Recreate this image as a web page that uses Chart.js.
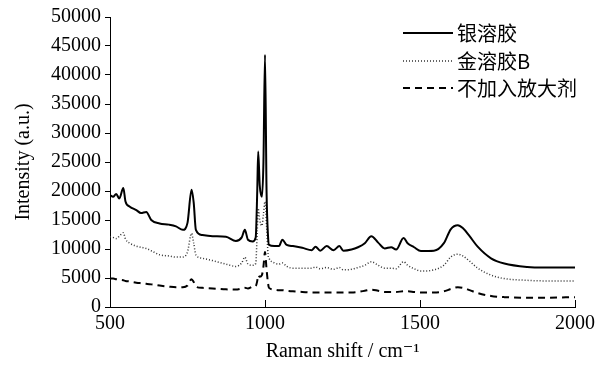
<!DOCTYPE html>
<html>
<head>
<meta charset="utf-8">
<script src="https://cdn.jsdelivr.net/npm/chart.js@4/dist/chart.umd.min.js"></script>
<style>
  html, body { margin: 0; padding: 0; background: #fff; }
  #wrap { width: 600px; height: 370px; position: relative; }
</style>
</head>
<body>
<div id="wrap"><canvas id="c"></canvas></div>
<script>
const seriesNames = ['银溶胶', '金溶胶B', '不加入放大剂'];
const ramanShift = [500,510,520,530,543,550,564,585,600,617,633,660,690,713,735,750,763,770,777,798,831,874,906,925,935,945,960,970,975,978,983,990,995,1000,1005,1010,1013,1030,1045,1056,1070,1090,1120,1151,1163,1178,1199,1221,1240,1253,1279,1300,1322,1343,1365,1386,1407,1423,1447,1460,1481,1503,1545,1577,1599,1622,1638,1660,1686,1729,1772,1846,1900,2000];
const silverSol = [19300,19000,19500,18700,20500,18200,17300,16700,16200,16400,15000,14400,14200,13900,13300,14500,20200,18000,13300,12400,12200,12100,11400,12000,13300,11600,11300,12000,20000,26800,21000,19000,25000,43500,20000,12000,10700,10500,10500,11600,10700,10500,10200,9800,10400,9700,10500,9800,10500,9700,9900,10300,11000,12200,11100,10100,10300,9900,11900,11000,10300,9650,9700,11000,13400,14100,13600,12200,10400,8400,7500,6900,6800,6800];
const goldSolB = [12100,12000,11800,12200,12800,11700,11000,10500,10300,10100,9700,9000,8800,8600,8600,9500,12700,11000,9000,8400,8000,7400,7000,7600,8600,7400,7200,7500,13000,17000,15000,14000,16000,18200,14000,9000,8400,7600,7400,7600,7000,6700,6700,6700,6900,6600,6800,6500,6800,6400,6500,6800,7200,7800,7200,6700,6700,6600,7800,7200,6600,6200,6400,7200,8600,9100,8800,7900,6700,5500,4900,4600,4500,4500];
const noAmplifier = [4900,4900,4800,4700,4600,4500,4400,4200,4100,4000,3900,3700,3500,3400,3400,3700,4800,4300,3500,3300,3200,3050,3000,3200,3300,3200,3500,3600,4500,5500,5200,5500,7000,9500,6500,4000,3300,3000,2900,2900,2800,2700,2600,2500,2500,2500,2500,2500,2500,2500,2500,2600,2800,3000,2800,2600,2600,2600,2700,2700,2600,2500,2500,2700,3100,3400,3300,2900,2400,1900,1700,1600,1600,1700];
const xTicks = [500, 1000, 1500, 2000];
const yTicks = [0,5000,10000,15000,20000,25000,30000,35000,40000,45000,50000];

const toPts = arr => ramanShift.map((x, i) => ({x, y: arr[i]}));
const styles = [
  {color: '#000', width: 2, dash: []},
  {color: '#333', width: 1.5, dash: [1, 2]},
  {color: '#000', width: 2, dash: [7, 5]}
];
const values = [silverSol, goldSolB, noAmplifier];

const serif = '"Liberation Serif", "DejaVu Serif", serif';
const cjk = '"Noto Sans CJK SC", sans-serif';

const extras = {
  id: 'extras',
  afterDraw(chart) {
    const ctx = chart.ctx;
    const xs = chart.scales.x;
    const area = chart.chartArea;
    ctx.save();
    ctx.strokeStyle = '#000';
    ctx.lineWidth = 1;
    xTicks.slice(1).forEach(v => {
      const px = Math.round(xs.getPixelForValue(v)) + 0.5;
      ctx.beginPath();
      ctx.moveTo(px, area.bottom);
      ctx.lineTo(px, area.bottom - 7);
      ctx.stroke();
    });
    const lx0 = 403, lx1 = 453, rows = [33, 61, 88];
    seriesNames.forEach((name, i) => {
      const s = styles[i];
      ctx.strokeStyle = s.color;
      ctx.lineWidth = s.width;
      ctx.setLineDash(s.dash);
      ctx.beginPath();
      ctx.moveTo(lx0, rows[i]);
      ctx.lineTo(lx1, rows[i]);
      ctx.stroke();
      ctx.setLineDash([]);
      ctx.fillStyle = '#000';
      ctx.font = '20px ' + cjk;
      ctx.textBaseline = 'middle';
      ctx.textAlign = 'left';
      ctx.fillText(name, 457, rows[i]);
    });
    ctx.restore();
  }
};

new Chart(document.getElementById('c'), {
  type: 'line',
  data: {
    datasets: seriesNames.map((name, i) => ({
      label: name,
      data: toPts(values[i]),
      borderColor: styles[i].color,
      borderWidth: styles[i].width,
      borderDash: styles[i].dash,
      pointRadius: 0,
      fill: false,
      cubicInterpolationMode: 'monotone'
    }))
  },
  options: {
    responsive: true,
    maintainAspectRatio: false,
    animation: false,
    layout: { padding: { left: 0, right: 22, top: 17, bottom: 0 } },
    plugins: { legend: { display: false }, tooltip: { enabled: false } },
    scales: {
      x: {
        type: 'linear',
        min: 500, max: 2000,
        afterBuildTicks: s => { s.ticks = xTicks.map(v => ({value: v})); },
        afterFit: s => { s.height = 63; },
        grid: { display: false, drawTicks: false },
        border: { display: true, color: '#000', width: 1 },
        ticks: { color: '#000', font: { family: serif, size: 20 }, padding: 5, maxRotation: 0, callback: v => String(v) },
        title: { display: true, text: 'Raman shift / cm⁻¹', color: '#000', font: { family: serif, size: 20 }, padding: { top: 0, bottom: 6 } }
      },
      y: {
        min: 0, max: 50000,
        afterBuildTicks: s => { s.ticks = yTicks.map(v => ({value: v})); },
        afterFit: s => { s.width = 110; },
        grid: { display: true, drawOnChartArea: false, drawTicks: true, tickLength: 5, color: '#000' },
        border: { display: true, color: '#000', width: 1 },
        ticks: { color: '#000', font: { family: serif, size: 20 }, padding: 4, callback: v => String(v) },
        title: { display: true, text: 'Intensity (a.u.)', color: '#000', font: { family: serif, size: 20 }, padding: { top: 12, bottom: 0 } }
      }
    }
  },
  plugins: [extras]
});
</script>
</body>
</html>
